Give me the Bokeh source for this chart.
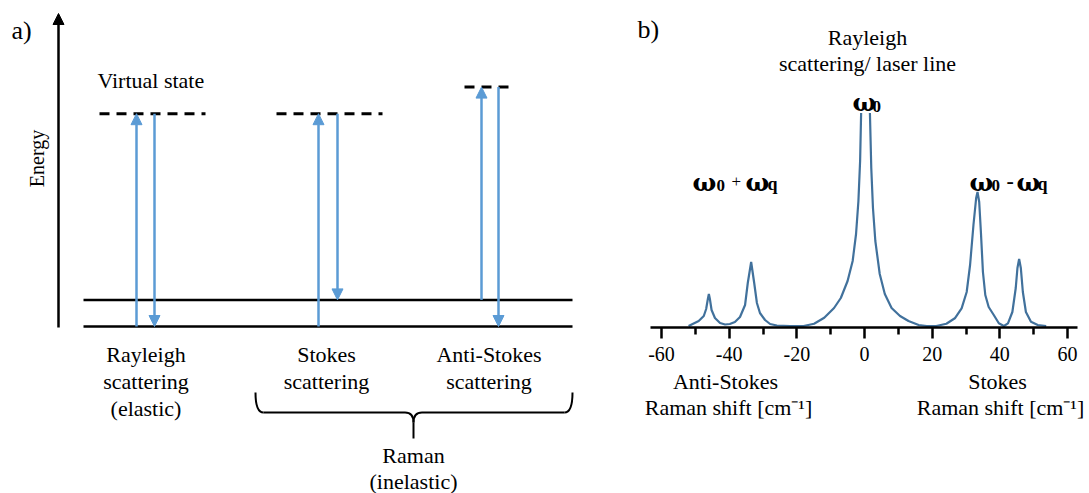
import math
from bokeh.plotting import figure
from bokeh.models import Range1d, Arrow, NormalHead, ColumnDataSource, FixedTicker, LinearAxis
from bokeh.core.properties import value
from bokeh.embed import file_html
from bokeh.resources import INLINE

nan = float("nan")

# ---------------- data: panel a) energy-level diagram ----------------
level_names = ["ground state", "vibrational state"]
level_energy = [0.0, 1.0]
virtual_process = ["Rayleigh", "Stokes", "Anti-Stokes"]
virtual_energy = [8.0, 8.0, 9.0]
trans_process = ["Rayleigh", "Rayleigh", "Stokes", "Stokes", "Anti-Stokes", "Anti-Stokes"]
trans_start = [0.0, 8.0, 0.0, 8.0, 1.0, 9.0]
trans_end = [8.0, 0.0, 8.0, 1.0, 9.0, 0.0]
process_label_lines = [["Rayleigh", "scattering", "(elastic)"],
                       ["Stokes", "scattering"],
                       ["Anti-Stokes", "scattering"]]

# ---------------- data: panel b) Raman spectrum (laser line cut at the top) ----------------
shift = [-52, -49, -47.5, -46.8, -46.3, -46.0, -45.7, -45.2, -44.2, -42.7, -41.2,
         -39.8, -38.3, -36.8, -35.3, -34.5, -33.5, -32.6, -31.8, -30.9, -29.4, -27.9,
         -25.9, -22.0, -18.0, -14.9, -11.9, -9.0, -7.0, -5.0, -3.5, -2.5, -1.8, -1.3,
         -1.0, 0.3, 1.6, 2.0, 2.5, 3.2, 4.5, 6.0, 8.0, 10.5, 13.0, 16.0, 18.4,
         21.2, 24.2, 26.7, 28.7, 30.2, 31.2, 32.2, 33.0, 33.4, 33.9, 34.4, 35.0,
         35.7, 36.7, 38.2, 39.7, 41.2, 42.4, 43.7, 44.7, 45.2, 45.7, 46.2, 46.8,
         47.7, 49.2, 51.2, 53.7]
intensity = [0, 5, 10, 17, 27, 32, 27, 16, 8, 3, 1.5,
             2, 4, 9, 21, 43, 64, 43, 23, 13, 6, 2,
             0.5, 0, 0, 2.3, 8.3, 18, 28, 45, 65, 92, 125, 165,
             213, nan, 213, 158, 118, 85, 52, 32, 18, 10, 5, 1, 0,
             0, 2.3, 7.7, 17.7, 34, 61, 101, 128, 134, 124, 94, 54,
             31, 19, 11, 2.7, 0, 2.7, 14, 38, 58, 67, 58, 34,
             14, 4.3, 1, 0]
tick_values = [-60, -40, -20, 0, 20, 40, 60]
tick_labels = ["-60", "-40", "-20", "0", "20", "40", "60"]
minor_tick_values = [-50, -30, -10, 10, 30, 50]

# ---------------- styles / layout ----------------
SERIF = "Liberation Serif"
BLUE = "#5b9bd5"
CURVE = "#41719c"
W, H = 1089, 493
PX_PER_E = 26.6
Y_GROUND = 326.0  # page y of the ground level


def ey(page_y):
    return (Y_GROUND - page_y) / PX_PER_E


p = figure(width=W, height=H, x_range=Range1d(0, W),
           y_range=Range1d(ey(H), ey(0)), toolbar_location=None,
           output_backend="svg", min_border=0, x_axis_location=None,
           y_axis_location=None, outline_line_color=None)
p.xgrid.visible = False
p.ygrid.visible = False

# ================= panel a) =================
p.add_layout(Arrow(end=NormalHead(size=11, fill_color="black", line_color="black", line_width=1),
                   x_start=58, y_start=ey(327), x_end=58, y_end=ey(13),
                   line_color="black", line_width=2.5))

lvl_x0, lvl_x1 = 83, 572
p.segment(x0=[lvl_x0] * len(level_energy), x1=[lvl_x1] * len(level_energy),
          y0=level_energy, y1=level_energy, line_color="black", line_width=2.5)

virt_x0 = [99, 276, 464]
virt_x1 = [205, 382, 513]
p.segment(x0=virt_x0, x1=virt_x1, y0=virtual_energy, y1=virtual_energy,
          line_color="black", line_width=3, line_dash="10 7")

arrow_x = [136, 154, 318, 337, 481, 498]
asrc = ColumnDataSource(dict(xs=arrow_x, ys=trans_start, xe=arrow_x, ye=trans_end))
p.add_layout(Arrow(end=NormalHead(size=11, fill_color=BLUE, line_color=BLUE, line_width=1),
                   source=asrc, x_start="xs", y_start="ys", x_end="xe", y_end="ye",
                   line_color=BLUE, line_width=2.5))

# brace under the Raman processes
bl, br, bm = 255, 572, 413
yt, yh, yk, yb = ey(392), ey(412), ey(422), ey(438)
p.quadratic(x0=[bl, bm - 8.5, bm + 8.5, br], y0=[yt, yh, yh, yt],
            x1=[bl + 8, bm, bm, br - 8], y1=[yh, yk, yk, yh],
            cx=[bl, bm, bm, br], cy=[yh, yh, yh, yh], line_color="black", line_width=2)
p.segment(x0=[bl + 8, bm + 8.5, bm], x1=[bm - 8.5, br - 8, bm],
          y0=[yh, yh, yk], y1=[yh, yh, yb], line_color="black", line_width=2)


def txt(xs, ys, texts, size, align="center", baseline="middle", style="normal",
        angle=0.0, font=SERIF):
    p.text(x=xs, y=[ey(v) for v in ys], text=texts, text_font=value(font),
           text_font_size=size, text_align=align, text_baseline=baseline,
           text_font_style=style, text_color="black", angle=angle)


label_x = [145.5, 326, 488.5]
tx, ty, tt = [], [], []
for cx, lines in zip(label_x, process_label_lines):
    for i, t in enumerate(lines):
        tx.append(cx)
        ty.append(354 + 27 * i)
        tt.append(t)
tx += [150.3, 413, 413]
ty += [80, 455, 481]
tt += ["Virtual state", "Raman", "(inelastic)"]
txt(tx, ty, tt, "22px")
txt([11], [30], ["a)"], "26px", align="left")
txt([36], [158], ["Energy"], "20px", angle=math.pi / 2)

# ================= panel b) =================
S0, S1 = -63.25, 62.95           # drawn extent of the shift axis
F0, F1 = 650, 1077               # its page x extent
PXU = (F1 - F0) / (S1 - S0)
p.extra_x_ranges = {"shift": Range1d(S0 + (0 - F0) / PXU, S0 + (W - F0) / PXU)}
p.extra_y_ranges = {"int": Range1d(325.5 - H, 325.5)}

p.line(shift, intensity, x_range_name="shift", y_range_name="int",
       line_color=CURVE, line_width=2.2)

ax = LinearAxis(x_range_name="shift", y_range_name="int", fixed_location=-1.5,
                bounds=(S0, S1),
                ticker=FixedTicker(ticks=tick_values, minor_ticks=minor_tick_values),
                major_label_overrides={v: l for v, l in zip(tick_values, tick_labels)})
ax.axis_line_color = "black"
ax.axis_line_width = 2.5
ax.major_tick_line_color = "black"
ax.major_tick_line_width = 2.5
ax.minor_tick_line_color = "black"
ax.minor_tick_line_width = 2.5
ax.major_tick_in = 0
ax.major_tick_out = 11
ax.minor_tick_in = 0
ax.minor_tick_out = 7
ax.major_label_standoff = 8
ax.major_label_text_font = SERIF
ax.major_label_text_font_size = "20px"
ax.major_label_text_color = "black"
p.add_layout(ax, "below")

txt([637], [29], ["b)"], "26px", align="left")
txt([867, 867], [37, 63], ["Rayleigh", "scattering/ laser line"], "22px")
txt([725, 728, 997, 1000], [381, 407, 381, 407],
    ["Anti-Stokes", "Raman shift [cm\u207b\u00b9]", "Stokes", "Raman shift [cm\u207b\u00b9]"], "22px")

# omega annotations (bold, with subscripts)
OM = "\u03c9"
txt([852, 692, 745, 969, 1016], [101.7, 181.7, 181.7, 181.7, 181.7], [OM] * 5, "25px",
    align="left", baseline="alphabetic", style="bold", font="DejaVu Serif")
txt([872, 716, 991], [106, 185, 185], ["0", "0", "0"], "17px",
    align="left", baseline="alphabetic", style="bold")
txt([767, 1037], [183, 183], ["q", "q"], "18px", align="left", baseline="alphabetic", style="bold")
txt([731], [181], ["+"], "17px", align="left", baseline="alphabetic")
txt([1006], [180], ["-"], "22px", align="left", baseline="alphabetic", style="bold")

open("out.html", "w").write(file_html(p, INLINE))
